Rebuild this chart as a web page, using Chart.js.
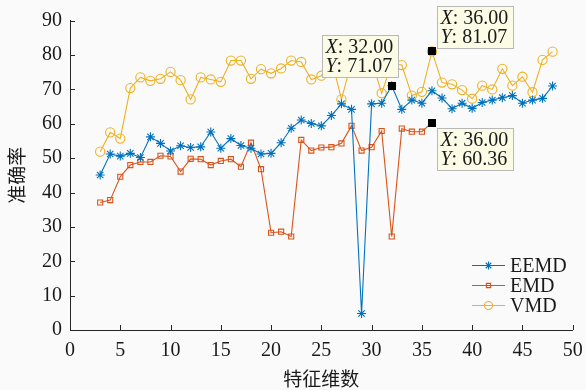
<!DOCTYPE html>
<html>
<head>
<meta charset="utf-8">
<script src="https://cdn.jsdelivr.net/npm/chart.js@4/dist/chart.umd.min.js"></script>
<style>
  html, body { margin: 0; padding: 0; background: #fafafa; }
  #wrap { width: 586px; height: 390px; position: relative; }
</style>
</head>
<body>
<div id="wrap"><canvas id="c" width="586" height="390"></canvas></div>
<script>
// ---- data ----
const featureDims = [3,4,5,6,7,8,9,10,11,12,13,14,15,16,17,18,19,20,21,22,23,24,25,26,27,28,29,30,31,32,33,34,35,36,37,38,39,40,41,42,43,44,45,46,47,48];
const eemdAcc = [45.1,51.2,50.6,51.4,50.2,56.2,54.3,52.1,53.6,53.1,53.3,57.6,52.9,55.7,53.7,52.9,51.2,51.4,54.5,58.7,61.1,60.1,59.4,62.4,65.8,64.2,4.8,65.8,66.0,71.07,64.2,66.9,66.0,69.6,67.5,64.4,66.0,64.5,66.2,66.9,67.6,68.2,66.0,66.9,67.4,71.0];
const emdAcc = [37.1,37.8,44.6,48.0,48.9,48.9,50.7,50.5,46.1,49.8,49.7,48.0,49.2,49.7,47.5,54.5,46.8,28.3,28.6,27.2,55.3,52.2,53.1,53.2,54.3,59.4,52.2,53.2,57.9,27.2,58.6,57.7,57.7,60.36];
const vmdAcc = [51.9,57.5,55.7,70.4,73.5,72.5,73.1,75.1,72.7,67.1,73.5,72.9,72.2,78.4,78.4,73.1,75.9,74.7,76.1,78.4,78.0,72.9,74.0,79.0,67.1,78.0,76.0,78.5,68.9,77.5,77.1,68.2,69.3,81.07,72.0,71.5,69.8,67.3,71.1,70.0,76.0,71.1,73.7,69.2,78.6,81.0];
const seriesNames = ['EEMD','EMD','VMD'];
const xTicks = [0,5,10,15,20,25,30,35,40,45,50];
const yTicks = [0,10,20,30,40,50,60,70,80,90];
const xTitle = '特征维数';
const yTitle = '准确率';
// data tips: [series index, x value]
const tipSeries = [0, 2, 1];
const tipX = [32, 36, 36];

// ---- build ----
function pts(vals) { return vals.map((v, i) => ({ x: featureDims[i], y: v })); }
const colors = ['#0072BD', '#D95319', '#EDB120'];
const styles = ['star', 'rect', 'circle'];
const radii = [4.5, 3.6, 4.6];
const allVals = [eemdAcc, emdAcc, vmdAcc];

const datasets = allVals.map((vals, i) => ({
  label: seriesNames[i],
  data: pts(vals),
  borderColor: colors[i],
  backgroundColor: colors[i],
  borderWidth: 1.1,
  pointStyle: styles[i],
  pointRadius: radii[i],
  pointBorderColor: colors[i],
  pointBackgroundColor: 'rgba(0,0,0,0)',
  pointBorderWidth: 1.1,
  tension: 0
}));

const AXIS = '#262626';
const SERIF = '"Liberation Serif", "Times New Roman", serif';

const decorPlugin = {
  id: 'decor',
  afterDraw(chart) {
    const ctx = chart.ctx;
    const xs = chart.scales.x, ys = chart.scales.y;
    const ca = chart.chartArea;
    ctx.save();
    // inward ticks
    ctx.strokeStyle = AXIS;
    ctx.lineWidth = 1;
    ctx.beginPath();
    xTicks.forEach(t => {
      if (t === 0) return;
      const px = Math.round(xs.getPixelForValue(t)) + 0.5;
      ctx.moveTo(px, ca.bottom);
      ctx.lineTo(px, ca.bottom - 5);
    });
    yTicks.forEach(t => {
      if (t === 0) return;
      const py = Math.round(ys.getPixelForValue(t)) + 0.5;
      ctx.moveTo(ca.left, py);
      ctx.lineTo(ca.left + 5, py);
    });
    ctx.stroke();

    // legend
    const lx0 = 472, lx1 = 505, ltx = 510;
    const rowsY = [265.5, 285.5, 305.5];
    chart.data.datasets.forEach((ds, i) => {
      const y = rowsY[i];
      ctx.strokeStyle = ds.borderColor;
      ctx.lineWidth = 1.1;
      ctx.beginPath();
      ctx.moveTo(lx0, y); ctx.lineTo(lx1, y);
      ctx.stroke();
      ctx.fillStyle = 'rgba(0,0,0,0)';
      ctx.strokeStyle = ds.borderColor;
      Chart.helpers.drawPoint(ctx, {
        pointStyle: ds.pointStyle, radius: ds.pointRadius - 0.6, borderWidth: 1.1, rotation: 0
      }, (lx0 + lx1) / 2, y);
      ctx.fillStyle = '#1a1a1a';
      ctx.font = '20px ' + SERIF;
      ctx.textAlign = 'left';
      ctx.textBaseline = 'middle';
      ctx.fillText(ds.label, ltx, y + 1);
    });

    // data tips
    const boxOffsets = [[-70, -51], [5, -45], [5, 5]];
    tipSeries.forEach((si, k) => {
      const xv = tipX[k];
      const idx = featureDims.indexOf(xv);
      const yv = allVals[si][idx];
      const px = xs.getPixelForValue(xv);
      const py = ys.getPixelForValue(yv);
      ctx.fillStyle = '#000';
      ctx.fillRect(Math.round(px) - 4, Math.round(py) - 4, 8, 8);
      const bx = Math.round(px + boxOffsets[k][0]) + 0.5;
      const by = Math.round(py + boxOffsets[k][1]) + 0.5;
      const bw = 76, bh = 42;
      ctx.fillStyle = '#fbfbe6';
      ctx.strokeStyle = '#b8b8b8';
      ctx.lineWidth = 1;
      ctx.fillRect(bx, by, bw, bh);
      ctx.strokeRect(bx, by, bw, bh);
      ctx.fillStyle = '#1a1a1a';
      ctx.textBaseline = 'middle';
      ctx.textAlign = 'left';
      const lines = [['X', xv.toFixed(2)], ['Y', yv.toFixed(2)]];
      lines.forEach((ln, j) => {
        const ty = by + 12 + j * 19;
        ctx.font = 'italic 20px ' + SERIF;
        ctx.fillText(ln[0], bx + 3, ty);
        const w = ctx.measureText(ln[0]).width;
        ctx.font = '20px ' + SERIF;
        ctx.fillText(': ' + ln[1], bx + 3 + w, ty);
      });
    });
    ctx.restore();
  }
};

new Chart(document.getElementById('c'), {
  type: 'line',
  data: { datasets },
  plugins: [decorPlugin],
  options: {
    responsive: false,
    animation: false,
    devicePixelRatio: 1,
    layout: { padding: { left: 0, right: 13.3, top: 20.7, bottom: 0 } },
    plugins: { legend: { display: false }, tooltip: { enabled: false } },
    scales: {
      x: {
        type: 'linear', min: 0, max: 50,
        afterBuildTicks(s) { s.ticks = xTicks.map(v => ({ value: v })); },
        afterFit(s) { s.height = 60; s.paddingRight = 0; s.paddingLeft = 0; },
        grid: { display: false, drawTicks: false },
        border: { display: true, color: AXIS, width: 1 },
        ticks: { color: '#1a1a1a', font: { family: SERIF, size: 20 }, padding: 9, maxRotation: 0 },
        title: { display: true, text: xTitle, color: '#1a1a1a', font: { family: '"Noto Sans CJK SC"', size: 19 }, padding: { top: 0, bottom: 0 } }
      },
      y: {
        type: 'linear', min: 0, max: 90,
        afterBuildTicks(s) { s.ticks = yTicks.map(v => ({ value: v })); },
        afterFit(s) { s.width = 70; s.paddingTop = 0; s.paddingBottom = 0; },
        grid: { display: false, drawTicks: false },
        border: { display: true, color: AXIS, width: 1 },
        ticks: { color: '#1a1a1a', font: { family: SERIF, size: 20 }, padding: 8 },
        title: { display: true, text: yTitle, color: '#1a1a1a', font: { family: '"Noto Sans CJK SC"', size: 19 }, padding: { top: 5, bottom: 0 } }
      }
    }
  }
});
</script>
</body>
</html>
